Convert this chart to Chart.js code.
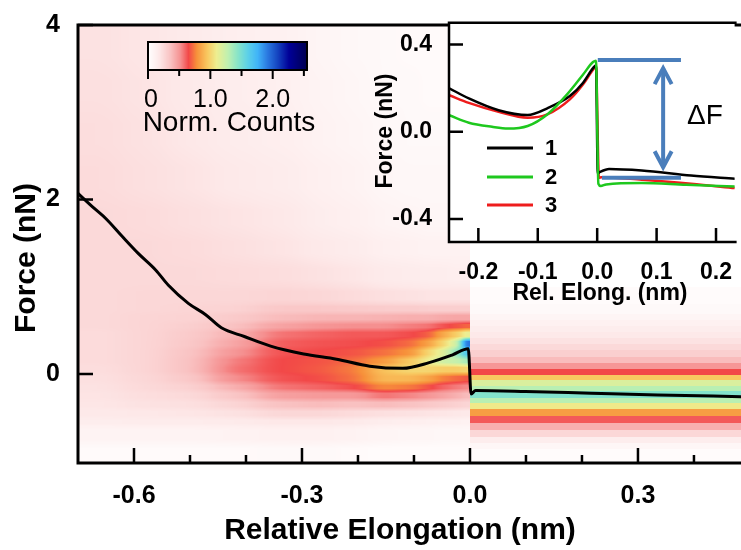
<!DOCTYPE html>
<html>
<head>
<meta charset="utf-8">
<script src="https://cdn.jsdelivr.net/npm/chart.js@4.4.0/dist/chart.umd.min.js"></script>
<style>
  html, body { margin: 0; padding: 0; background: #fff; }
  #wrap { position: relative; width: 741px; height: 550px; overflow: hidden; }
  #main { position: absolute; left: 0; top: 0; }
  #inset { position: absolute; left: 360px; top: 0; }
</style>
</head>
<body>
<div id="wrap">
  <canvas id="main" width="741" height="550"></canvas>
  <canvas id="inset" width="381" height="320"></canvas>
</div>
<script>
// ---- main plot: average curve (nm, nN)
const mainElong = [-0.700, -0.673, -0.650, -0.620, -0.592, -0.561, -0.539, -0.503, -0.472, -0.444, -0.403, -0.356, -0.297, -0.238, -0.179, -0.120, -0.073, -0.031, -0.003, 0.002, 0.010, 0.099, 0.216, 0.335, 0.484];
const mainForce = [2.07, 1.91, 1.78, 1.57, 1.38, 1.19, 1.02, 0.81, 0.68, 0.53, 0.43, 0.32, 0.23, 0.17, 0.09, 0.065, 0.13, 0.22, 0.29, -0.23, -0.19, -0.20, -0.22, -0.24, -0.26];

const mainXTicks = [-0.6, -0.3, 0.0, 0.3];
const mainXMinor = [-0.5, -0.4, -0.2, -0.1, 0.1, 0.2, 0.4];
const mainYTicks = [0, 2, 4];

// ---- 2D histogram, x < 0 part (one array per elongation column, bottom to top)
const leftColEdges = [-0.70, -0.62, -0.54, -0.46, -0.38, -0.30, -0.24, -0.18, -0.13, -0.09, -0.06, -0.035, -0.015, 0.0];
const leftRowEdges = [-1.0, -0.8, -0.6, -0.5, -0.4, -0.3, -0.2, -0.1, 0.0, 0.1, 0.2, 0.3, 0.4, 0.5, 0.6, 0.7, 0.8, 1.0, 1.3, 1.6, 2.0, 2.5, 3.0, 3.5, 4.0];
const leftCounts = [
  [0.04, 0.09, 0.14, 0.17, 0.19, 0.20, 0.21, 0.22, 0.23, 0.24, 0.24, 0.24, 0.24, 0.25, 0.25, 0.25, 0.25, 0.25, 0.25, 0.25, 0.24, 0.23, 0.22, 0.21],
  [0.04, 0.09, 0.15, 0.18, 0.21, 0.23, 0.25, 0.26, 0.27, 0.27, 0.27, 0.27, 0.27, 0.27, 0.27, 0.26, 0.26, 0.25, 0.25, 0.24, 0.22, 0.21, 0.20, 0.19],
  [0.04, 0.09, 0.15, 0.19, 0.22, 0.25, 0.29, 0.33, 0.36, 0.36, 0.35, 0.33, 0.32, 0.30, 0.28, 0.27, 0.26, 0.25, 0.24, 0.22, 0.20, 0.18, 0.17, 0.16],
  [0.04, 0.10, 0.16, 0.21, 0.27, 0.34, 0.42, 0.52, 0.57, 0.55, 0.50, 0.45, 0.41, 0.36, 0.32, 0.28, 0.26, 0.24, 0.22, 0.20, 0.17, 0.15, 0.14, 0.13],
  [0.05, 0.11, 0.18, 0.26, 0.36, 0.47, 0.57, 0.63, 0.65, 0.65, 0.63, 0.61, 0.57, 0.46, 0.38, 0.33, 0.27, 0.23, 0.20, 0.18, 0.15, 0.13, 0.12, 0.11],
  [0.05, 0.11, 0.18, 0.26, 0.38, 0.49, 0.60, 0.66, 0.68, 0.67, 0.65, 0.63, 0.60, 0.50, 0.40, 0.33, 0.26, 0.21, 0.17, 0.14, 0.12, 0.10, 0.09, 0.08],
  [0.04, 0.10, 0.17, 0.24, 0.36, 0.49, 0.64, 0.72, 0.74, 0.71, 0.67, 0.64, 0.62, 0.52, 0.40, 0.32, 0.24, 0.19, 0.15, 0.12, 0.10, 0.08, 0.07, 0.06],
  [0.03, 0.08, 0.14, 0.22, 0.38, 0.57, 0.77, 0.90, 0.93, 0.81, 0.72, 0.66, 0.62, 0.52, 0.41, 0.31, 0.22, 0.16, 0.12, 0.09, 0.07, 0.06, 0.05, 0.05],
  [0.03, 0.07, 0.13, 0.21, 0.36, 0.54, 0.74, 0.90, 1.00, 0.95, 0.79, 0.71, 0.64, 0.55, 0.42, 0.31, 0.21, 0.15, 0.11, 0.08, 0.06, 0.05, 0.05, 0.04],
  [0.03, 0.07, 0.12, 0.20, 0.33, 0.50, 0.67, 0.84, 1.00, 1.10, 1.00, 0.83, 0.69, 0.57, 0.42, 0.30, 0.20, 0.14, 0.10, 0.07, 0.06, 0.05, 0.04, 0.04],
  [0.03, 0.06, 0.11, 0.19, 0.31, 0.46, 0.60, 0.75, 0.97, 1.22, 1.16, 1.00, 0.85, 0.63, 0.44, 0.30, 0.20, 0.14, 0.10, 0.07, 0.06, 0.05, 0.04, 0.04],
  [0.03, 0.06, 0.11, 0.18, 0.29, 0.42, 0.56, 0.71, 0.97, 1.26, 1.40, 1.22, 0.97, 0.67, 0.45, 0.30, 0.20, 0.13, 0.10, 0.07, 0.06, 0.05, 0.04, 0.04],
  [0.03, 0.06, 0.10, 0.17, 0.27, 0.38, 0.53, 0.68, 1.00, 1.35, 1.65, 1.92, 1.12, 0.70, 0.45, 0.30, 0.20, 0.13, 0.10, 0.07, 0.06, 0.05, 0.04, 0.04]
];

// ---- 2D histogram, x > 0 part (flat stripes, bottom to top)
const rightColEdges = [0.0, 0.5];
const rightRowEdges = [-1.0, -0.86, -0.79, -0.72, -0.64, -0.56, -0.48, -0.40, -0.33, -0.27, -0.20, -0.14, -0.07, -0.01, 0.06, 0.13, 0.20, 0.27, 0.34, 0.41, 0.48, 0.55, 0.62, 0.69, 0.80, 1.0];
const rightCounts = [0.03, 0.07, 0.14, 0.26, 0.42, 0.62, 0.82, 1.08, 1.30, 1.46, 1.30, 1.18, 0.95, 0.65, 0.50, 0.38, 0.30, 0.25, 0.21, 0.17, 0.14, 0.11, 0.08, 0.05, 0.03];

// colour scale
const cbarMax = 2.55;
const cbarTicks = [0, 1, 2];
const cbarTickLabels = ['0', '1.0', '2.0'];
const cbarMinor = [0.5, 1.5, 2.5];
const cmapStops = [0, 0.18, 0.36, 0.52, 0.65, 0.78, 0.95, 1.1, 1.28, 1.44, 1.6, 1.76, 1.92, 2.08, 2.26, 2.55];
const cmapColors = ['#ffffff', '#fde8e8', '#f9c2c2', '#f59090', '#f24848', '#f7903a', '#f8c860', '#eeee90', '#c0f0b0', '#88e4c8', '#5cd0e8', '#40b4f8', '#2a78e0', '#1444c0', '#000098', '#000050'];

// ---- inset: individual curves
const elong1 = [-0.249, -0.216, -0.166, -0.117, -0.084, -0.046, -0.024, -0.007, -0.002, 0.001, 0.004, 0.020, 0.075, 0.158, 0.232];
const force1 = [0.200, 0.153, 0.099, 0.077, 0.108, 0.164, 0.224, 0.292, 0.305, -0.190, -0.185, -0.170, -0.177, -0.200, -0.215];
const elong2 = [-0.249, -0.216, -0.177, -0.150, -0.117, -0.084, -0.051, -0.024, -0.007, -0.002, 0.002, 0.006, 0.015, 0.075, 0.150, 0.232];
const force2 = [0.076, 0.042, 0.023, 0.015, 0.027, 0.080, 0.171, 0.262, 0.320, 0.326, -0.238, -0.248, -0.241, -0.235, -0.243, -0.250];
const elong3 = [-0.249, -0.216, -0.166, -0.117, -0.084, -0.046, -0.024, -0.007, -0.002, 0.003, 0.007, 0.075, 0.158, 0.232];
const force3 = [0.168, 0.133, 0.092, 0.065, 0.080, 0.149, 0.217, 0.285, 0.300, -0.210, -0.208, -0.220, -0.238, -0.258];
const curveNames = ['1', '2', '3'];

// ΔF annotation
const dfTopX = [0.001, 0.141];
const dfTopY = [0.33, 0.33];
const dfBaseX = [0.008, 0.141];
const dfBaseY = [-0.21, -0.21];
const dfArrowX = [0.111, 0.111];
const dfArrowY = [0.292, -0.162];

const insetXTicks = [-0.2, -0.1, 0.0, 0.1, 0.2];
const insetYTicks = [-0.4, 0.0, 0.4];

const FONT = "'Liberation Sans', Arial, sans-serif";
Chart.defaults.font.family = FONT;
Chart.defaults.color = '#000';

const hexRgb = h => [1, 3, 5].map(i => parseInt(h.slice(i, i + 2), 16));
const countRgb = v => {
  if (v <= cmapStops[0]) return hexRgb(cmapColors[0]);
  for (let i = 1; i < cmapStops.length; i++) {
    if (v <= cmapStops[i]) {
      const t = (v - cmapStops[i - 1]) / (cmapStops[i] - cmapStops[i - 1]);
      const a = hexRgb(cmapColors[i - 1]), b = hexRgb(cmapColors[i]);
      return a.map((c, k) => Math.round(c + (b[k] - c) * t));
    }
  }
  return hexRgb(cmapColors[cmapColors.length - 1]);
};
const countColor = v => 'rgb(' + countRgb(v).join(',') + ')';
const pts = (xs, ys) => xs.map((x, i) => ({ x: x, y: ys[i] }));

const findBin = (edges, v) => {
  for (let i = 0; i < edges.length - 1; i++) if (v < edges[i + 1]) return i;
  return edges.length - 2;
};

// moving average along one direction, window radius varies per position
const smoothRows = (f, W, H, rad) => {
  const out = new Float32Array(W * H);
  const pre = new Float64Array(W + 1);
  for (let r = 0; r < H; r++) {
    for (let c = 0; c < W; c++) pre[c + 1] = pre[c] + f[r * W + c];
    for (let c = 0; c < W; c++) {
      const lo = Math.max(0, c - rad[c]), hi = Math.min(W - 1, c + rad[c]);
      out[r * W + c] = (pre[hi + 1] - pre[lo]) / (hi - lo + 1);
    }
  }
  return out;
};
const smoothCols = (f, W, H, rad) => {
  const out = new Float32Array(W * H);
  const pre = new Float64Array(H + 1);
  for (let c = 0; c < W; c++) {
    for (let r = 0; r < H; r++) pre[r + 1] = pre[r] + f[r * W + c];
    for (let r = 0; r < H; r++) {
      const lo = Math.max(0, r - rad[r]), hi = Math.min(H - 1, r + rad[r]);
      out[r * W + c] = (pre[hi + 1] - pre[lo]) / (hi - lo + 1);
    }
  }
  return out;
};

const heatmapPlugin = {
  id: 'heatmap',
  beforeDatasetsDraw(chart) {
    const { ctx, chartArea: a, scales: { x, y } } = chart;
    const L = Math.round(a.left), T = Math.round(a.top), B = Math.round(a.bottom);
    const x0 = Math.round(x.getPixelForValue(rightColEdges[0]));
    const W = x0 - L, H = B - T;

    // left part: sample the cells per pixel, soften them, then colour
    const colOf = [], radX = [];
    for (let c = 0; c < W; c++) {
      const i = findBin(leftColEdges, x.getValueForPixel(L + c + 0.5));
      colOf.push(i);
      const w = x.getPixelForValue(leftColEdges[i + 1]) - x.getPixelForValue(leftColEdges[i]);
      radX.push(Math.max(1, Math.round(w * 0.35)));
    }
    const rowOf = [], radY = [];
    for (let r = 0; r < H; r++) {
      const j = findBin(leftRowEdges, y.getValueForPixel(T + r + 0.5));
      rowOf.push(j);
      const h = y.getPixelForValue(leftRowEdges[j]) - y.getPixelForValue(leftRowEdges[j + 1]);
      radY.push(Math.max(1, Math.round(h * 0.25)));
    }
    let field = new Float32Array(W * H);
    for (let r = 0; r < H; r++) for (let c = 0; c < W; c++) field[r * W + c] = leftCounts[colOf[c]][rowOf[r]];
    field = smoothRows(field, W, H, radX);
    field = smoothRows(field, W, H, radX);
    field = smoothCols(field, W, H, radY);
    const img = ctx.createImageData(W, H);
    for (let p = 0; p < W * H; p++) {
      const rgb = countRgb(field[p]);
      img.data[p * 4] = rgb[0];
      img.data[p * 4 + 1] = rgb[1];
      img.data[p * 4 + 2] = rgb[2];
      img.data[p * 4 + 3] = 255;
    }
    ctx.putImageData(img, L, T);

    // right part: flat stripes
    const x1 = Math.round(x.getPixelForValue(rightColEdges[1]));
    ctx.save();
    ctx.beginPath();
    ctx.rect(x0, a.top, a.right - x0, a.bottom - a.top);
    ctx.clip();
    rightCounts.forEach((v, j) => {
      const yb = Math.round(y.getPixelForValue(rightRowEdges[j]));
      const yt = Math.round(y.getPixelForValue(rightRowEdges[j + 1]));
      ctx.fillStyle = countColor(v);
      ctx.fillRect(x0, yt, x1 - x0, yb - yt);
    });
    ctx.restore();
  }
};

const mainDecor = {
  id: 'mainDecor',
  afterDraw(chart) {
    const { ctx, chartArea: a, scales: { x, y } } = chart;
    ctx.save();
    ctx.strokeStyle = '#000';
    ctx.lineWidth = 3;
    ctx.beginPath();
    ctx.moveTo(a.right + 2, a.top);
    ctx.lineTo(a.left, a.top);
    ctx.lineTo(a.left, a.bottom);
    ctx.lineTo(a.right + 2, a.bottom);
    ctx.stroke();
    ctx.lineWidth = 2.5;
    ctx.beginPath();
    mainXTicks.forEach(v => { const p = x.getPixelForValue(v); ctx.moveTo(p, a.bottom); ctx.lineTo(p, a.bottom - 15); });
    mainXMinor.forEach(v => { const p = x.getPixelForValue(v); ctx.moveTo(p, a.bottom); ctx.lineTo(p, a.bottom - 8); });
    mainYTicks.forEach(v => { const p = y.getPixelForValue(v); ctx.moveTo(a.left, p); ctx.lineTo(a.left + 15, p); });
    ctx.stroke();

    // axis titles
    ctx.fillStyle = '#000';
    ctx.font = 'bold 30px ' + FONT;
    ctx.textAlign = 'center';
    ctx.textBaseline = 'middle';
    ctx.fillText('Relative Elongation (nm)', 400, 531);
    ctx.save();
    ctx.translate(27, 258);
    ctx.rotate(-Math.PI / 2);
    ctx.fillText('Force (nN)', 0, 0);
    ctx.restore();

    // colour bar
    const cb = { left: 148, top: 42, width: 159, height: 28 };
    for (let i = 0; i < cb.width; i++) {
      ctx.fillStyle = countColor(cbarMax * (i + 0.5) / cb.width);
      ctx.fillRect(cb.left + i, cb.top, 1, cb.height);
    }
    ctx.lineWidth = 2;
    ctx.strokeRect(cb.left, cb.top, cb.width, cb.height);
    const cx = v => cb.left + v / cbarMax * cb.width;
    ctx.beginPath();
    cbarTicks.forEach(v => { ctx.moveTo(cx(v), cb.top + cb.height); ctx.lineTo(cx(v), cb.top + cb.height + 9); });
    cbarMinor.forEach(v => { ctx.moveTo(cx(v), cb.top + cb.height); ctx.lineTo(cx(v), cb.top + cb.height + 6); });
    ctx.stroke();
    ctx.fillStyle = '#000';
    ctx.font = '25px ' + FONT;
    cbarTicks.forEach((v, i) => ctx.fillText(cbarTickLabels[i], cx(v) + (i === 0 ? 3 : 0), 100));
    ctx.font = '28px ' + FONT;
    ctx.fillText('Norm. Counts', 229, 123);
    ctx.restore();
  }
};

new Chart(document.getElementById('main'), {
  type: 'scatter',
  data: {
    datasets: [{
      data: pts(mainElong, mainForce),
      showLine: true,
      cubicInterpolationMode: 'monotone',
      borderColor: '#000',
      borderWidth: 3,
      pointRadius: 0,
      fill: false
    }]
  },
  options: {
    responsive: false,
    animation: false,
    devicePixelRatio: 1,
    layout: { padding: { top: 21, right: 0, left: 0, bottom: 0 } },
    plugins: { legend: { display: false }, tooltip: { enabled: false } },
    scales: {
      x: {
        type: 'linear', min: -0.70, max: 0.484,
        afterFit: s => { s.height = 87; },
        afterBuildTicks: s => { s.ticks = mainXTicks.map(v => ({ value: v })); },
        grid: { display: false },
        border: { display: false },
        ticks: { padding: 10, autoSkip: false, maxRotation: 0, font: { size: 25, weight: 'bold' }, callback: v => v.toFixed(1) }
      },
      y: {
        type: 'linear', min: -1.02, max: 4,
        afterFit: s => { s.width = 78; },
        afterBuildTicks: s => { s.ticks = mainYTicks.map(v => ({ value: v })); },
        grid: { display: false },
        border: { display: false },
        ticks: { padding: 10, autoSkip: false, font: { size: 25, weight: 'bold' }, callback: v => String(v) }
      }
    }
  },
  plugins: [heatmapPlugin, mainDecor]
});

const BLUE = '#4a7ebb';
const insetDecor = {
  id: 'insetDecor',
  beforeDraw(chart) {
    const { ctx, chartArea: a } = chart;
    ctx.save();
    ctx.fillStyle = '#fff';
    ctx.fillRect(a.left, a.top, a.right - a.left, a.bottom - a.top);
    ctx.restore();
  },
  afterDraw(chart) {
    const { ctx, chartArea: a, scales: { x, y } } = chart;
    ctx.save();
    ctx.strokeStyle = '#000';
    ctx.lineWidth = 2.5;
    ctx.beginPath();
    ctx.moveTo(a.right + 2, a.top);
    ctx.lineTo(a.left, a.top);
    ctx.lineTo(a.left, a.bottom);
    ctx.lineTo(a.right + 2, a.bottom);
    insetXTicks.forEach(v => { const p = x.getPixelForValue(v); ctx.moveTo(p, a.bottom); ctx.lineTo(p, a.bottom - 14); });
    insetYTicks.forEach(v => { const p = y.getPixelForValue(v); ctx.moveTo(a.left, p); ctx.lineTo(a.left + 14, p); });
    ctx.stroke();

    // arrow heads of the ΔF arrow
    ctx.strokeStyle = BLUE;
    ctx.lineWidth = 4;
    ctx.lineJoin = 'miter';
    const ax = x.getPixelForValue(dfArrowX[0]);
    const yTop = y.getPixelForValue(dfArrowY[0]);
    const yBot = y.getPixelForValue(dfArrowY[1]);
    ctx.beginPath();
    ctx.moveTo(ax - 8.5, yTop + 16); ctx.lineTo(ax, yTop); ctx.lineTo(ax + 8.5, yTop + 16);
    ctx.moveTo(ax - 8.5, yBot - 16); ctx.lineTo(ax, yBot); ctx.lineTo(ax + 8.5, yBot - 16);
    ctx.stroke();

    ctx.fillStyle = '#000';
    ctx.textAlign = 'center';
    ctx.textBaseline = 'middle';
    ctx.font = '28px ' + FONT;
    ctx.fillText('\u0394F', 345, 116);

    // legend
    const legColors = ['#000000', '#1ec81e', '#ee1c1c'];
    const legY = [148, 177, 205];
    ctx.font = 'bold 22px ' + FONT;
    ctx.textAlign = 'left';
    curveNames.forEach((n, i) => {
      ctx.strokeStyle = legColors[i];
      ctx.lineWidth = 3;
      ctx.beginPath();
      ctx.moveTo(127, legY[i]);
      ctx.lineTo(173, legY[i]);
      ctx.stroke();
      ctx.fillText(n, 185, legY[i] + 1);
    });

    // titles
    ctx.textAlign = 'center';
    ctx.font = 'bold 23px ' + FONT;
    ctx.fillText('Rel. Elong. (nm)', 240, 294);
    ctx.save();
    ctx.translate(26, 131);
    ctx.rotate(-Math.PI / 2);
    ctx.fillText('Force (nN)', 0, 0);
    ctx.restore();
    ctx.restore();
  }
};

const curveStyle = (c, w, smooth) => ({ showLine: true, borderColor: c, borderWidth: w, pointRadius: 0, fill: false, cubicInterpolationMode: smooth ? 'monotone' : 'default' });
new Chart(document.getElementById('inset'), {
  type: 'scatter',
  data: {
    datasets: [
      Object.assign({ data: pts(dfTopX, dfTopY) }, curveStyle(BLUE, 4, false)),
      Object.assign({ data: pts(dfBaseX, dfBaseY) }, curveStyle(BLUE, 4, false)),
      Object.assign({ data: pts(dfArrowX, dfArrowY) }, curveStyle(BLUE, 4, false)),
      Object.assign({ data: pts(elong2, force2) }, curveStyle('#1ec81e', 2.5, true)),
      Object.assign({ data: pts(elong1, force1) }, curveStyle('#000000', 2.5, true)),
      Object.assign({ data: pts(elong3, force3) }, curveStyle('#ee1c1c', 2.5, true))
    ]
  },
  options: {
    responsive: false,
    animation: false,
    devicePixelRatio: 1,
    layout: { padding: { top: 21, right: 0, left: 0, bottom: 0 } },
    plugins: { legend: { display: false }, tooltip: { enabled: false } },
    scales: {
      x: {
        type: 'linear', min: -0.2494, max: 0.2313,
        afterFit: s => { s.height = 78; },
        afterBuildTicks: s => { s.ticks = insetXTicks.map(v => ({ value: v })); },
        grid: { display: false },
        border: { display: false },
        ticks: { padding: 9, autoSkip: false, maxRotation: 0, font: { size: 23, weight: 'bold' }, callback: v => v.toFixed(1) }
      },
      y: {
        type: 'linear', min: -0.505, max: 0.5,
        afterFit: s => { s.width = 89; },
        afterBuildTicks: s => { s.ticks = insetYTicks.map(v => ({ value: v })); },
        grid: { display: false },
        border: { display: false },
        ticks: { padding: 9, autoSkip: false, font: { size: 23, weight: 'bold' }, callback: v => v.toFixed(1) }
      }
    }
  },
  plugins: [insetDecor]
});
</script>
</body>
</html>
